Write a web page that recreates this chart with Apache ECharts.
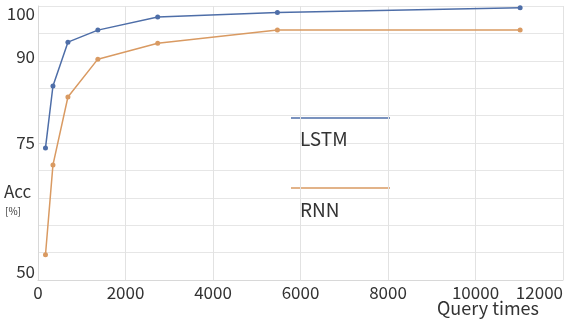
<!DOCTYPE html>
<html><head><meta charset="utf-8">
<script src="https://cdn.jsdelivr.net/npm/echarts@6/dist/echarts.min.js"></script>
<style>html,body{margin:0;padding:0;background:#fff}#c{width:572px;height:320px}</style>
</head><body><div id="c"></div>
<script>
var queryTimes = [171, 342, 684, 1368, 2736, 5472, 11020];
var lstmAcc = [74.1, 85.4, 93.4, 95.6, 98.0, 98.8, 99.7];
var rnnAcc = [54.6, 71.0, 83.4, 90.3, 93.2, 95.6, 95.6];
var yTickLabels = [100, 90, 75, 50];
var xTicks = [0, 2000, 4000, 6000, 8000, 10000, 12000];

var FONT = '"Noto Sans CJK JP", "Noto Sans", sans-serif';
var BLUE = '#4e6ea8', ORANGE = '#d99a62', TXT = '#333';

function pairs(xs, ys){ return xs.map(function(x,i){ return [x, ys[i]]; }); }

var chart = echarts.init(document.getElementById('c'), null, {renderer:'canvas'});
chart.setOption({
  animation:false,
  backgroundColor:'#fff',
  grid:{left:38, right:9, top:6, bottom:40, containLabel:false},
  xAxis:{type:'value', min:xTicks[0], max:xTicks[xTicks.length-1], interval:2000,
    axisLine:{show:true, lineStyle:{color:'#d8d8d8'}}, axisTick:{show:false},
    splitLine:{show:true, lineStyle:{color:'#e2e2e2'}},
    axisLabel:{color:TXT, fontFamily:FONT, fontSize:17, margin:4, alignMaxLabel:'right',
      formatter:function(v){ return String(v); }}},
  yAxis:{type:'value', min:50, max:100, interval:5,
    axisLine:{show:true, lineStyle:{color:'#d8d8d8'}}, axisTick:{show:false},
    splitLine:{show:true, lineStyle:{color:'#e6e6e6'}},
    axisLabel:{color:TXT, fontFamily:FONT, fontSize:17, margin:3,
      formatter:function(v){
        if (yTickLabels.indexOf(v) < 0) return '';
        var k = v===100?'t':(v===90?'m':(v===50?'b':'n'));
        return '{'+k+'|'+v+'}';
      },
      rich:{
        t:{fontFamily:FONT, fontSize:17, color:TXT, padding:[16,0,0,0]},
        m:{fontFamily:FONT, fontSize:17, color:TXT, padding:[0,0,8,0]},
        n:{fontFamily:FONT, fontSize:17, color:TXT},
        b:{fontFamily:FONT, fontSize:17, color:TXT, padding:[0,0,16,0]}
      }}},
  title:[
    {text:'Query times', left:437, top:299, textStyle:{fontFamily:FONT, fontSize:18, fontWeight:'normal', color:TXT}, padding:0},
    {text:'Acc', left:4, top:183, textStyle:{fontFamily:FONT, fontSize:17, fontWeight:'normal', color:TXT}, padding:0},
    {text:'[%]', left:5, top:206, textStyle:{fontFamily:FONT, fontSize:10, fontWeight:'normal', color:TXT}, padding:0},
    {text:'LSTM', left:300, top:129, textStyle:{fontFamily:FONT, fontSize:19, fontWeight:'normal', color:TXT}, padding:0},
    {text:'RNN', left:300, top:200, textStyle:{fontFamily:FONT, fontSize:19, fontWeight:'normal', color:TXT}, padding:0}
  ],
  graphic:[
    {type:'line', shape:{x1:291, y1:118, x2:390, y2:118}, style:{stroke:BLUE, lineWidth:1.5}},
    {type:'line', shape:{x1:291, y1:188, x2:390, y2:188}, style:{stroke:ORANGE, lineWidth:1.5}}
  ],
  series:[
    {name:'LSTM', type:'line', data:pairs(queryTimes, lstmAcc), symbol:'circle', symbolSize:5,
      lineStyle:{color:BLUE, width:1.5}, itemStyle:{color:BLUE}},
    {name:'RNN', type:'line', data:pairs(queryTimes, rnnAcc), symbol:'circle', symbolSize:5,
      lineStyle:{color:ORANGE, width:1.5}, itemStyle:{color:ORANGE}}
  ]
});
</script></body></html>
